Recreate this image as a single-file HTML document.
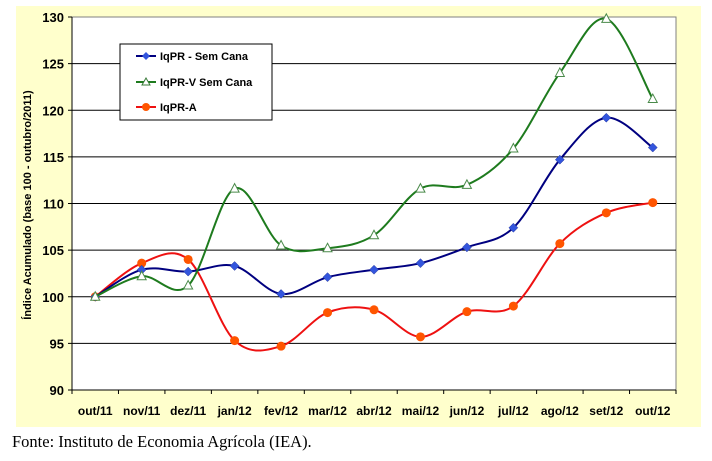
<!DOCTYPE html>
<html><head><meta charset="utf-8"><style>
body{margin:0;background:#fff;font-family:"Liberation Sans",sans-serif}
svg text{font-family:"Liberation Sans",sans-serif}
</style></head><body>
<svg id="chart" width="712" height="456" xmlns="http://www.w3.org/2000/svg">
<rect x="16" y="6" width="685" height="421" fill="#ffffcc"/>
<rect x="72" y="17" width="604" height="373" fill="#fff" stroke="#808080"/>
<g id="grid"></g><g id="axes"></g><g id="series"></g>
<text transform="translate(31,205) rotate(-90)" text-anchor="middle" font-size="11" font-weight="bold">Índice Acumulado (base 100 - outubro/2011)</text>
<g>
<rect x="120" y="44" width="152" height="76" fill="#fff" stroke="#000"/>
<line x1="136" y1="56" x2="156" y2="56" stroke="#000080" stroke-width="2"/><path d="M146 52 L150 56 L146 60 L142 56Z" fill="#3355dd"/>
<text x="160" y="60" font-size="11" font-weight="bold">IqPR - Sem Cana</text>
<line x1="136" y1="82" x2="156" y2="82" stroke="#1e7b1e" stroke-width="2"/><path d="M146 78 L150 85 L142 85Z" fill="#fff" stroke="#3a7a3a"/>
<text x="160" y="86" font-size="11" font-weight="bold">IqPR-V Sem Cana</text>
<line x1="136" y1="107" x2="156" y2="107" stroke="#ee1111" stroke-width="2"/><circle cx="146" cy="107" r="4" fill="#ff5500"/>
<text x="160" y="111" font-size="11" font-weight="bold">IqPR-A</text>
</g>
<text x="12" y="447" font-size="16.5" style="font-family:'Liberation Serif',serif">Fonte: Instituto de Economia Agrícola (IEA).</text>
</svg>
<script>
const categories=["out/11","nov/11","dez/11","jan/12","fev/12","mar/12","abr/12","mai/12","jun/12","jul/12","ago/12","set/12","out/12"];
const iqpr=[100,102.9,102.7,103.3,100.3,102.1,102.9,103.6,105.3,107.4,114.7,119.2,116.0];
const iqprV=[100,102.2,101.2,111.6,105.5,105.2,106.6,111.6,112.0,115.9,124.0,129.8,121.2];
const iqprA=[100,103.6,104.0,95.3,94.7,98.3,98.6,95.7,98.4,99.0,105.7,109.0,110.1];
const yTicks=[90,95,100,105,110,115,120,125,130];
const NS="http://www.w3.org/2000/svg";
const L=72,R=676,T=17,B=390,bw=(R-L)/categories.length;
const x=i=>L+bw*(i+0.5), y=v=>B-(v-90)/(130-90)*(B-T);
function mk(t,a,p){const e=document.createElementNS(NS,t);for(const k in a)e.setAttribute(k,a[k]);p.appendChild(e);return e;}
const grid=document.getElementById('grid'),axes=document.getElementById('axes'),ser=document.getElementById('series');
yTicks.forEach(v=>{
 if(v>90&&v<130){const l=mk('line',{x1:L,x2:R,y1:y(v),y2:y(v),stroke:'#000','stroke-width':1},grid);
 
 }
 mk('line',{x1:L-4,x2:L,y1:y(v),y2:y(v),stroke:'#000'},axes);
 const t=mk('text',{x:L-8,y:y(v)+5,'text-anchor':'end','font-size':13,'font-weight':'bold'},axes);t.textContent=v;
 
 
});
mk('line',{x1:L,x2:L,y1:T,y2:B,stroke:'#000'},axes);
mk('line',{x1:L,x2:R,y1:B,y2:B,stroke:'#000'},axes);
categories.forEach((c,i)=>{
 mk('line',{x1:L+bw*i,x2:L+bw*i,y1:B,y2:B+4,stroke:'#000'},axes);
 const t=mk('text',{x:x(i),y:B+25,'text-anchor':'middle','font-size':12,'font-weight':'bold'},axes);t.textContent=c;
 
 
});
mk('line',{x1:R,x2:R,y1:B,y2:B+4,stroke:'#000'},axes);
function smooth(vals){const p=vals.map((v,i)=>[x(i),y(v)]);let d='M'+p[0][0]+' '+p[0][1];
 for(let i=0;i<p.length-1;i++){const p0=p[i-1]||p[i],p1=p[i],p2=p[i+1],p3=p[i+2]||p2;
 const c1=[p1[0]+(p2[0]-p0[0])/6,p1[1]+(p2[1]-p0[1])/6],c2=[p2[0]-(p3[0]-p1[0])/6,p2[1]-(p3[1]-p1[1])/6];
 d+=` C${c1[0]} ${c1[1]} ${c2[0]} ${c2[1]} ${p2[0]} ${p2[1]}`;}return d;}
function series(vals,color,name,marker){
 const g=mk('g',{},ser);
 
 
 mk('path',{d:smooth(vals),fill:'none',stroke:color,'stroke-width':2},g);
 vals.forEach((v,i)=>{const cx=x(i),cy=y(v);let m;
  if(marker==='d')m=mk('path',{d:`M${cx} ${cy-4.5}L${cx+4.5} ${cy}L${cx} ${cy+4.5}L${cx-4.5} ${cy}Z`,fill:'#3355dd',stroke:'#223399','stroke-width':0.5},g);
  else if(marker==='t')m=mk('path',{d:`M${cx} ${cy-5}L${cx+4.5} ${cy+3.5}L${cx-4.5} ${cy+3.5}Z`,fill:'#fff',stroke:'#4a8a4a'},g);
  else m=mk('circle',{cx:cx,cy:cy,r:4.5,fill:'#ff5500'},g);
  
  
 });
}
series(iqprA,'#ee1111','iqpr-a','c');
series(iqpr,'#000080','iqpr','d');
series(iqprV,'#1e7b1e','iqpr-v','t');
</script>
</body></html>
